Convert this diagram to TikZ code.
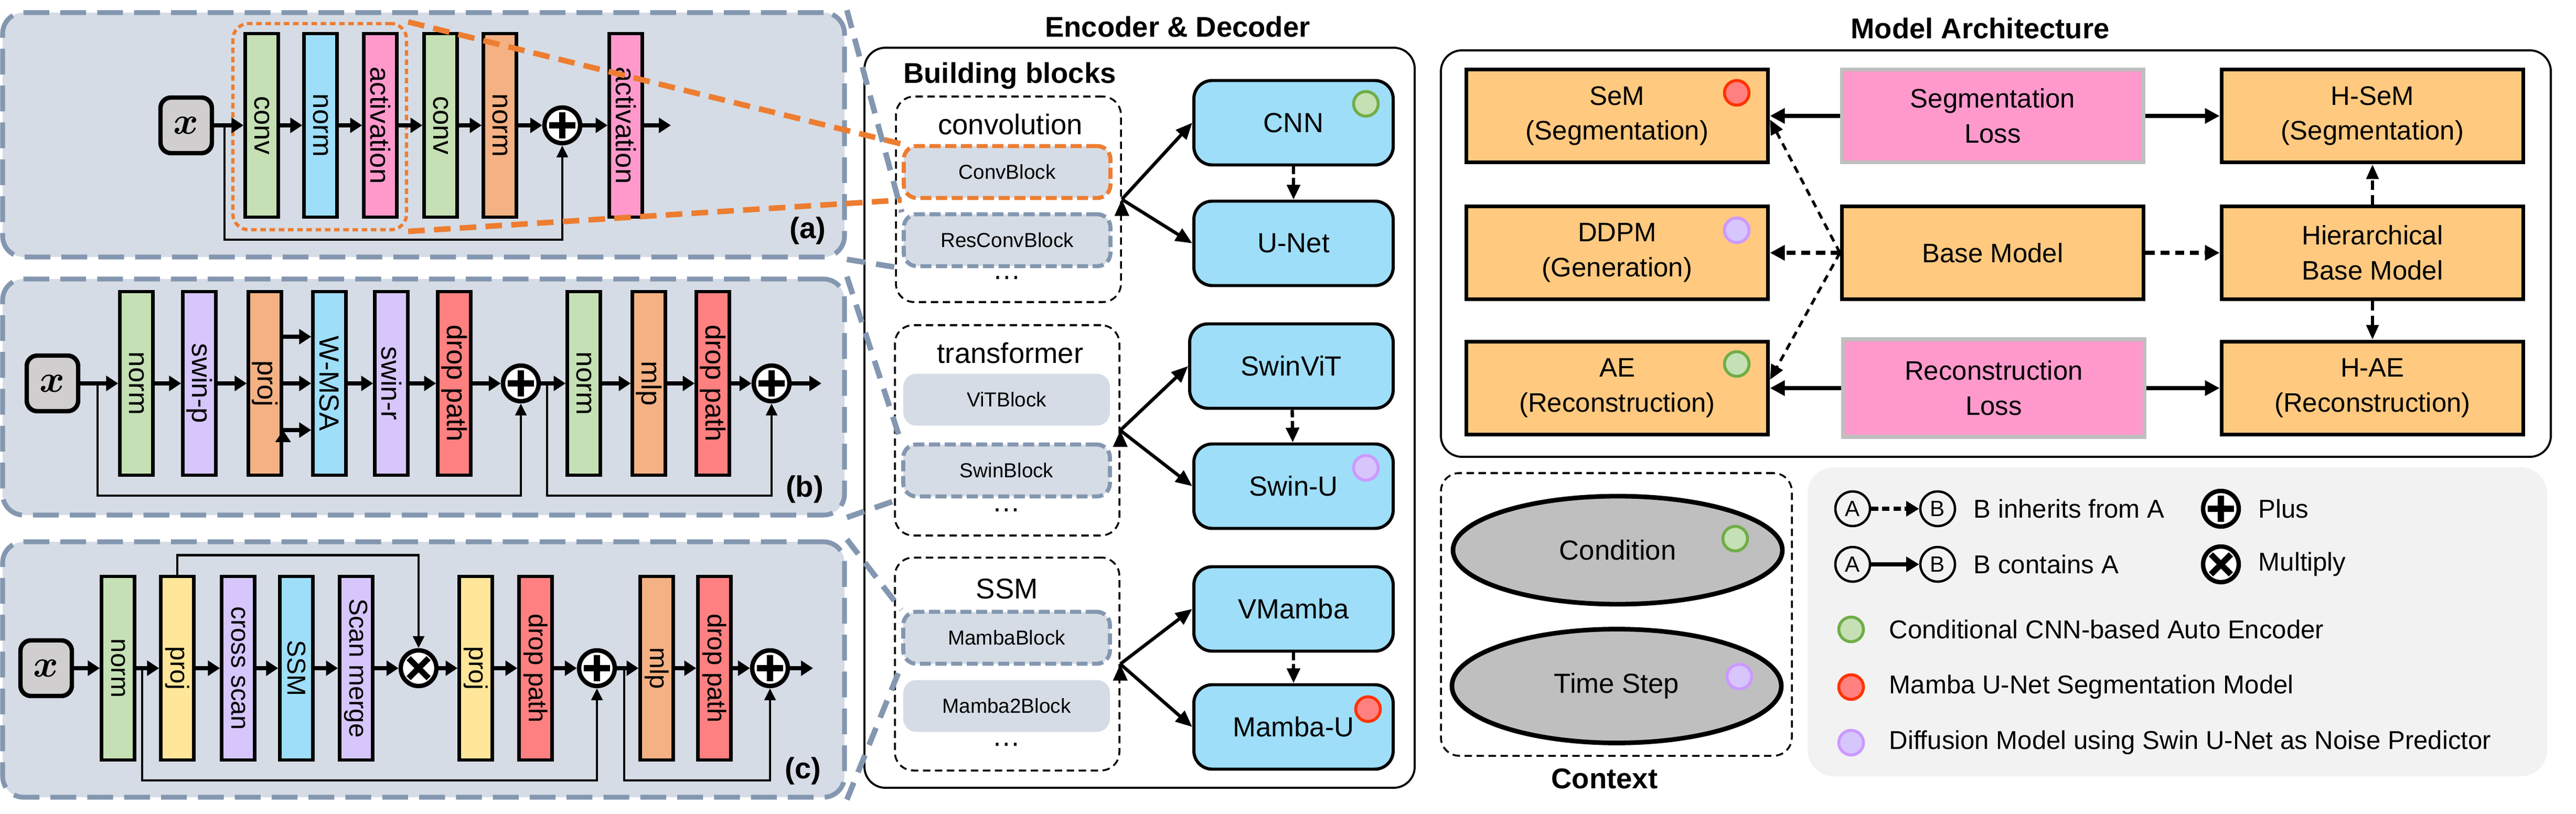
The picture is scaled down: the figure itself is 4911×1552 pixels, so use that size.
\documentclass[tikz,border=0pt]{standalone}
\usepackage{fontspec}
\setmainfont{Liberation Sans}
\usepackage{graphicx}
\usetikzlibrary{arrows.meta,shapes.geometric}
\definecolor{panelbg}{HTML}{D6DCE5}
\definecolor{panelline}{HTML}{8497B0}
\definecolor{hlorange}{HTML}{ED7D31}
\definecolor{cgreen}{HTML}{C5E0B4}
\definecolor{cblue}{RGB}{158,222,248}
\definecolor{cpink}{HTML}{FF99CC}
\definecolor{corange}{HTML}{F4B183}
\definecolor{cpurple}{RGB}{214,198,252}
\definecolor{cred}{HTML}{FF8080}
\definecolor{cyellow}{HTML}{FFE699}
\definecolor{xgray}{HTML}{D0CECE}
\definecolor{archorange}{RGB}{255,201,127}
\definecolor{lossline}{HTML}{BFBFBF}
\definecolor{ctxgray}{HTML}{BFBFBF}
\definecolor{legendgray}{HTML}{F2F2F2}
\definecolor{dotgline}{HTML}{70AD47}
\definecolor{dotrline}{HTML}{FF3300}
\definecolor{dotpline}{HTML}{CC99FF}
\newcommand{\vtxt}[1]{\rotatebox{-90}{#1}}
\newcommand{\fsz}[2]{\fontsize{#1}{#2}\selectfont}
\newcommand{\xsym}{{\boldmath$x$}}
\begin{document}
\begin{tikzpicture}[x=0.1mm,y=-0.1mm,
   panel/.style={draw=panelline,fill=panelbg,line width=2.6pt,dash pattern=on 14pt off 6pt,rounded corners=4mm,inner sep=0},
   obox/.style={draw=hlorange,line width=1.8pt,dash pattern=on 3pt off 2pt,rounded corners=3mm,inner sep=0},
   bar/.style={draw,line width=1.8pt,minimum width=6.3mm,minimum height=35mm,inner sep=0,font=\fsz{15}{18}},
   xin/.style={draw,line width=2.4pt,fill=xgray,rounded corners=2mm,minimum width=9.8mm,minimum height=10.6mm,inner sep=0,font=\fsz{20}{22}},
   addop/.style={circle,draw,fill=white,line width=2.4pt,minimum size=6.8mm,inner sep=0,
      path picture={\draw[line width=3.2pt] (path picture bounding box.center) +(-2.5mm,0) -- +(2.5mm,0)
         (path picture bounding box.center) +(0,-2.5mm) -- +(0,2.5mm);}},
   mulop/.style={circle,draw,fill=white,line width=2.4pt,minimum size=6.8mm,inner sep=0,
      path picture={\draw[line width=3.2pt] (path picture bounding box.center) +(-1.9mm,-1.9mm) -- +(1.9mm,1.9mm)
         (path picture bounding box.center) +(-1.9mm,1.9mm) -- +(1.9mm,-1.9mm);}},
   flow/.style={line width=2.3pt,-{Triangle[length=6.5pt,width=8pt]}},
   skip/.style={line width=1.4pt,-{Triangle[length=6.5pt,width=6pt]}},
   paneltag/.style={font=\bfseries\fsz{16}{18}},
   outerbox/.style={draw,line width=1.1pt,rounded corners=4mm,inner sep=0},
   group/.style={draw,line width=1pt,dash pattern=on 4pt off 2.5pt,rounded corners=3.5mm,inner sep=0},
   heading/.style={font=\bfseries\fsz{15.5}{18}},
   grouptitle/.style={font=\fsz{15.5}{18}},
   block/.style={fill=panelbg,rounded corners=2.5mm,minimum width=39.4mm,minimum height=9.9mm,inner sep=0,font=\fsz{11}{13}},
   blockhl/.style={block,draw=hlorange,line width=2.2pt,dash pattern=on 6pt off 2.5pt},
   blockgr/.style={block,draw=panelline,line width=2.2pt,dash pattern=on 6pt off 2.5pt},
   net/.style={draw,fill=cblue,line width=1.7pt,rounded corners=3.5mm,minimum width=38mm,minimum height=16.1mm,inner sep=0,font=\fsz{15}{18}},
   build/.style={line width=1.8pt,-{Triangle[length=9pt,width=7.5pt]}},
   inherit/.style={line width=1.8pt,dash pattern=on 4pt off 2pt,-{Triangle[length=8pt,width=7pt]}},
   tagdot/.style={circle,line width=1.6pt,minimum size=4.7mm,inner sep=0},
   dotg/.style={tagdot,draw=dotgline,fill=cgreen},
   dotr/.style={tagdot,draw=dotrline,fill=cred},
   dotp/.style={tagdot,draw=dotpline,fill=cpurple},
   zoomor/.style={draw=hlorange,line width=3pt,dash pattern=on 9pt off 5pt},
   zoomgr/.style={draw=panelline,line width=3pt,dash pattern=on 10pt off 6pt},
   model/.style={draw,fill=archorange,line width=2.2pt,minimum width=57.5mm,minimum height=17.7mm,align=center,inner sep=0,font=\fsz{14.5}{19}},
   loss/.style={model,draw=lossline,fill=cpink},
   contain/.style={line width=2pt,-{Triangle[length=8pt,width=8pt]}},
   inheritbig/.style={line width=2.4pt,dash pattern=on 5pt off 3pt,-{Triangle[length=8pt,width=8pt]}},
   inheritthin/.style={line width=1.5pt,dash pattern=on 4pt off 3pt,-{Triangle[length=8pt,width=7pt]}},
   inheritmid/.style={line width=1.8pt,dash pattern=on 5pt off 3pt,-{Triangle[length=8pt,width=6.5pt]}},
   ctxnode/.style={ellipse,draw,fill=ctxgray,line width=2.5pt,minimum width=62.8mm,minimum height=20.6mm,inner sep=0,font=\fsz{15}{18}},
   legendbg/.style={fill=legendgray,rounded corners=5mm,inner sep=0},
   letter/.style={circle,draw,line width=1.3pt,minimum size=6.6mm,inner sep=0,font=\fsz{12}{14}},
   legtext/.style={anchor=west,inner sep=0,font=\fsz{14}{17}},
   legdash/.style={line width=2pt,dash pattern=on 4pt off 2pt,-{Triangle[length=7pt,width=8pt]}},
   legline/.style={line width=2pt,-{Triangle[length=7pt,width=8pt]}}]
\useasboundingbox (0,0) rectangle (4911,1552);

\node[panel,minimum width=160.5mm,minimum height=46.6mm] (pa) at (807.5,257) {};
\node[obox,minimum width=33.1mm,minimum height=39.3mm] (oa) at (609.5,241.5) {};
\node[xin] (xa) at (355,239) {\xsym};
\node[bar,fill=cgreen] (a1) at (499,239) {\vtxt{conv}};
\node[bar,fill=cblue] (a2) at (611,239) {\vtxt{norm}};
\node[bar,fill=cpink] (a3) at (725,239) {\vtxt{activation}};
\node[bar,fill=cgreen] (a4) at (840,239) {\vtxt{conv}};
\node[bar,fill=corange] (a5) at (953,239) {\vtxt{norm}};
\node[addop] (a6) at (1072,239) {};
\node[bar,fill=cpink] (a7) at (1193,239) {\vtxt{activation}};
\coordinate (ta) at (428,239);
\coordinate (ea) at (1279,239);
\draw[flow] (xa) edge (a1) (a1) edge (a2) (a2) edge (a3) (a3) edge (a4) (a4) edge (a5) (a5) edge (a6) (a6) edge (a7) (a7) edge (ea);
\draw[skip] (ta) -- ++(0,218) -| (a6.south);
\node[paneltag] (la) at (1540,440) {(a)};

\node[panel,minimum width=160.5mm,minimum height=45mm] (pb) at (807.5,757) {};
\node[xin] (xb) at (100,731) {\xsym};
\node[bar,fill=cgreen] (b1) at (260,731) {\vtxt{norm}};
\node[bar,fill=cpurple] (b2) at (380,731) {\vtxt{swin-p}};
\node[bar,fill=corange] (b3) at (505,731) {\vtxt{proj}};
\node[bar,fill=cblue] (b4) at (628,731) {\vtxt{W-MSA}};
\node[bar,fill=cpurple] (b5) at (746,731) {\vtxt{swin-r}};
\node[bar,fill=cred] (b6) at (866,731) {\vtxt{drop path}};
\node[addop] (b7) at (993,731) {};
\node[bar,fill=cgreen] (b8) at (1113,731) {\vtxt{norm}};
\node[bar,fill=corange] (b9) at (1237,731) {\vtxt{mlp}};
\node[bar,fill=cred] (b10) at (1359,731) {\vtxt{drop path}};
\node[addop] (b11) at (1471,731) {};
\coordinate (tb1) at (186,731);
\coordinate (tb2) at (1043,731);
\coordinate (eb) at (1566,731);
\draw[flow] (xb) edge (b1) (b1) edge (b2) (b2) edge (b3) (b3) edge (b4)
   ([yshift=8.9mm]b3.east) edge ([yshift=8.9mm]b4.west) ([yshift=-8.9mm]b3.east) edge ([yshift=-8.9mm]b4.west)
   (b4) edge (b5) (b5) edge (b6) (b6) edge (b7) (b7) edge (b8) (b8) edge (b9) (b9) edge (b10) (b10) edge (b11) (b11) edge (eb);
\draw[skip] (tb1) -- ++(0,214) -| (b7.south);
\draw[skip] (tb2) -- ++(0,214) -| (b11.south);
\node[paneltag] (lb) at (1534,933) {(b)};

\node[panel,minimum width=160.5mm,minimum height=48.7mm] (pc) at (807.5,1276.5) {};
\begin{scope}[bar/.append style={font=\fsz{14}{17}}]
\node[xin] (xc) at (88,1274) {\xsym};
\node[bar,fill=cgreen] (c1) at (225,1274) {\vtxt{norm}};
\node[bar,fill=cyellow] (c2) at (338,1274) {\vtxt{proj}};
\node[bar,fill=cpurple] (c3) at (454,1274) {\vtxt{cross scan}};
\node[bar,fill=cblue] (c4) at (565,1274) {\vtxt{SSM}};
\node[bar,fill=cpurple] (c5) at (679,1274) {\vtxt{Scan merge}};
\node[mulop] (c6) at (798,1274) {};
\node[bar,fill=cyellow] (c7) at (907,1274) {\vtxt{proj}};
\node[bar,fill=cred] (c8) at (1021,1274) {\vtxt{drop path}};
\node[addop] (c9) at (1138,1274) {};
\node[bar,fill=corange] (c10) at (1252,1274) {\vtxt{mlp}};
\node[bar,fill=cred] (c11) at (1362,1274) {\vtxt{drop path}};
\node[addop] (c12) at (1468,1274) {};
\end{scope}
\coordinate (tc1) at (271,1274);
\coordinate (tc2) at (1190,1274);
\coordinate (ec) at (1550,1274);
\draw[flow] (xc) edge (c1) (c1) edge (c2) (c2) edge (c3) (c3) edge (c4) (c4) edge (c5) (c5) edge (c6) (c6) edge (c7)
   (c7) edge (c8) (c8) edge (c9) (c9) edge (c10) (c10) edge (c11) (c11) edge (c12) (c12) edge (ec);
\draw[skip] (c2.north) -- ++(0,-37) -| (c6.north);
\draw[skip] (tc1) -- ++(0,214) -| (c9.south);
\draw[skip] (tc2) -- ++(0,214) -| (c12.south);
\node[paneltag] (lc) at (1531,1470) {(c)};

\node[heading] (ttl1) at (2245,51) {Encoder \& Decoder};
\node[outerbox,minimum width=104.9mm,minimum height=141.1mm] (ed) at (2172.5,796.5) {};
\node[heading] (ttl2) at (1925,145) {Building blocks};
\node[group,minimum width=42.9mm,minimum height=39.2mm] (gconv) at (1922.5,380) {};
\node[grouptitle] (tconv) at (1926,237) {convolution};
\node[blockhl] (convb) at (1920,328) {ConvBlock};
\node[blockgr] (resb) at (1920,458) {ResConvBlock};
\node[grouptitle] (dconv) at (1920,530) {\dots};
\node[group,minimum width=42.8mm,minimum height=40.1mm] (gtrans) at (1920,820.5) {};
\node[grouptitle] (ttrans) at (1926,673) {transformer};
\node[block] (vitb) at (1919,762) {ViTBlock};
\node[blockgr] (swinb) at (1919,897) {SwinBlock};
\node[grouptitle] (dtrans) at (1919,973) {\dots};
\node[group,minimum width=42.8mm,minimum height=40.6mm] (gssm) at (1920,1266) {};
\node[grouptitle] (tssm) at (1920,1123) {SSM};
\node[blockgr] (mambab) at (1919,1216) {MambaBlock};
\node[block] (mamba2b) at (1919,1346) {Mamba2Block};
\node[grouptitle] (dssm) at (1919,1420) {\dots};

\node[net] (cnn) at (2466,234) {CNN};
\node[net] (unet) at (2466,464) {U-Net};
\node[net,minimum width=38.8mm] (swinvit) at (2462,698) {SwinViT};
\node[net] (swinu) at (2466,927) {Swin-U};
\node[net] (vmamba) at (2466,1161) {VMamba};
\node[net] (mambau) at (2466,1386) {Mamba-U};
\node[dotg] (cnndot) at (2604,198) {};
\node[dotp] (swinudot) at (2604,892) {};
\node[dotr] (mambaudot) at (2608,1352) {};
\draw[build] (gconv.east) edge (cnn.west) (gconv.east) edge (unet.west);
\draw[build] (gtrans.east) edge (swinvit.west) (gtrans.east) edge (swinu.west);
\draw[build] (gssm.east) edge (vmamba.west) (gssm.east) edge (mambau.west);
\draw[inherit] (cnn) -- (unet);
\draw[inherit] (swinvit) -- (swinu);
\draw[inherit] (vmamba) -- (mambau);

\node[heading] (ttl3) at (3775,54) {Model Architecture};
\node[outerbox,minimum width=211.6mm,minimum height=77.5mm] (ma) at (3805,483.5) {};
\node[model] (sem) at (3083,221) {SeM\\(Segmentation)};
\node[loss] (segloss) at (3799,221) {Segmentation\\Loss};
\node[model] (hsem) at (4523,221) {H-SeM\\(Segmentation)};
\node[model] (ddpm) at (3083,482) {DDPM\\(Generation)};
\node[model] (base) at (3799,482) {Base Model};
\node[model] (hier) at (4523,482) {Hierarchical\\Base Model};
\node[model] (ae) at (3083,740) {AE\\(Reconstruction)};
\node[loss,minimum height=18.6mm] (recloss) at (3801,740) {Reconstruction\\Loss};
\node[model] (hae) at (4523,740) {H-AE\\(Reconstruction)};
\node[dotr] (semdot) at (3311,177) {};
\node[dotp] (ddpmdot) at (3311,439) {};
\node[dotg] (aedot) at (3311,694) {};
\draw[contain] (segloss) -- (sem);
\draw[contain] (segloss) -- (hsem);
\draw[contain] (recloss) -- (ae);
\draw[contain] (recloss) -- (hae);
\draw[inheritbig] (base) -- (ddpm);
\draw[inheritbig] (base) -- (hier);
\draw[inheritthin] (base.west) -- ([yshift=-0.7mm]sem.east);
\draw[inheritthin] (base.west) -- ([yshift=1.6mm]ae.east);
\draw[inheritmid] (hier) -- (hsem);
\draw[inheritmid] (hier) -- (hae);

\node[group,minimum width=66.9mm,minimum height=53.9mm] (ctx) at (3081.5,1171.5) {};
\node[ctxnode] (cond) at (3084,1049) {Condition};
\node[ctxnode,minimum height=21.7mm] (tstep) at (3082,1308) {Time Step};
\node[dotg] (conddot) at (3308,1027) {};
\node[dotp] (tstepdot) at (3316,1290) {};
\node[heading] (ttl4) at (3059,1485) {Context};

\node[legendbg,minimum width=141mm,minimum height=58.9mm] (leg) at (4151,1185.5) {};
\node[letter] (la1) at (3532,970) {A};
\node[letter] (lb1) at (3694,970) {B};
\node[legtext] (lt1) at (3762,970) {B inherits from A};
\node[addop] (ladd) at (4234,970) {};
\node[legtext] (lt2) at (4305,970) {Plus};
\node[letter] (la2) at (3532,1076) {A};
\node[letter] (lb2) at (3694,1076) {B};
\node[legtext] (lt3) at (3762,1076) {B contains A};
\node[mulop] (lmul) at (4234,1076) {};
\node[legtext] (lt4) at (4305,1076) {Multiply};
\node[dotg] (ld1) at (3529,1200) {};
\node[legtext] (lt5) at (3601,1200) {Conditional CNN-based Auto Encoder};
\node[dotr] (ld2) at (3529,1310) {};
\node[legtext] (lt6) at (3601,1310) {Mamba U-Net Segmentation Model};
\node[dotp] (ld3) at (3529,1416) {};
\node[legtext] (lt7) at (3601,1416) {Diffusion Model using Swin U-Net as Noise Predictor};
\draw[legdash] (la1) -- (lb1);
\draw[legline] (la2) -- (lb2);

\draw[zoomor] (oa.north east) -- (convb.north west);
\draw[zoomor] (oa.south east) -- (convb.south west);
\draw[zoomgr] (pa.north east) -- (resb.north west);
\draw[zoomgr] (pa.south east) -- (resb.south west);
\draw[zoomgr] (pb.north east) -- (swinb.north west);
\draw[zoomgr] (pb.south east) -- (swinb.south west);
\draw[zoomgr] (pc.north east) -- (mambab.north west);
\draw[zoomgr] (pc.south east) -- (mambab.south west);
\end{tikzpicture}
\end{document}
